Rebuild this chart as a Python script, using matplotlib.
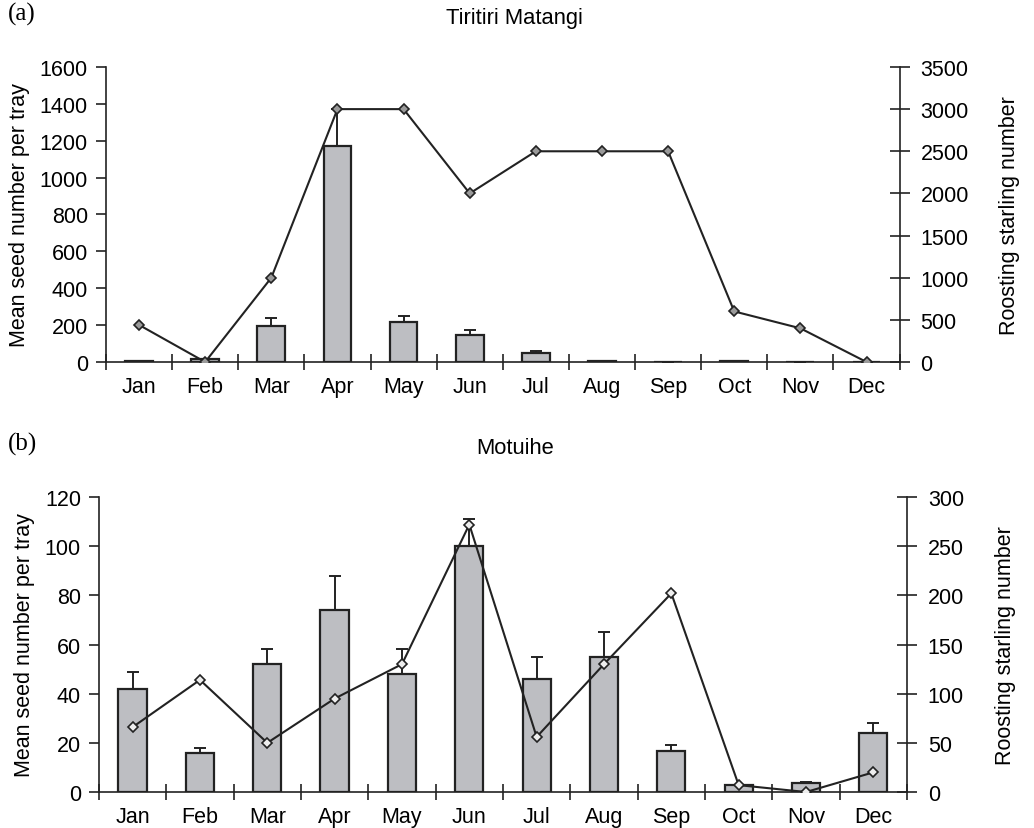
import matplotlib
matplotlib.use('Agg')
from matplotlib import pyplot as plt
from matplotlib.ticker import FixedLocator
import numpy as np

plt.rcParams['font.family'] = ['Liberation Sans', 'DejaVu Sans']
plt.rcParams['font.size'] = 15.5

months = ['Jan', 'Feb', 'Mar', 'Apr', 'May', 'Jun',
          'Jul', 'Aug', 'Sep', 'Oct', 'Nov', 'Dec']

# (a) Tiritiri Matangi
tiri_seeds = [5, 15, 197, 1170, 218, 148, 48, 5, 1, 5, 1, 0]
tiri_err = [0, 0, 40, 200, 32, 24, 12, 0, 0, 0, 0, 0]
tiri_starlings = [440, 0, 1000, 3000, 3000, 2000, 2500, 2500, 2500, 600, 400, 0]

# (b) Motuihe
motu_seeds = [42, 16, 52, 74, 48, 100, 46, 55, 16.5, 3, 3.5, 24]
motu_err = [7, 2, 6, 14, 10, 11, 9, 10, 2.5, 0, 0.5, 4]
motu_starlings = [66, 114, 50, 95, 130, 272, 56, 130, 202, 7, 0, 20]

ink = '#222222'
bar_grey = '#bdbec2'


def panel(rect, tag, title, seeds, err, birds, ymax1, ystep1, ymax2, ystep2, mface):
    ax = fig.add_axes(rect)
    x = np.arange(len(months))
    ax.bar(x, seeds, width=0.42, color=bar_grey, edgecolor=ink, linewidth=1.6, zorder=2)
    ax.errorbar(x, seeds, yerr=[np.zeros(len(err)), err], fmt='none', ecolor=ink,
                elinewidth=1.4, capsize=4, capthick=1.4, zorder=3)
    ax.set_xlim(-0.5, 11.5)
    ax.set_ylim(0, ymax1)
    ax.set_yticks(np.arange(0, ymax1 + 1, ystep1))
    ax.set_xticks(x)
    ax.set_xticklabels(months)
    ax.xaxis.set_minor_locator(FixedLocator(np.arange(-0.5, 12, 1)))
    ax.tick_params(axis='x', which='major', length=0, pad=10)
    ax.tick_params(axis='x', which='minor', direction='inout', length=12, width=1.2, color=ink)
    ax.tick_params(axis='y', direction='out', length=7, width=1.2, color=ink, pad=6)
    ax.set_ylabel('Mean seed number per tray', labelpad=7)
    for s in ['top', 'right']:
        ax.spines[s].set_visible(False)
    for s in ['left', 'bottom']:
        ax.spines[s].set_color(ink)
        ax.spines[s].set_linewidth(1.2)

    ax2 = ax.twinx()
    ax2.plot(x, birds, color=ink, linewidth=1.5, marker='D', markersize=5.5,
             markerfacecolor=mface, markeredgecolor=ink, markeredgewidth=1.2, zorder=4)
    ax2.set_ylim(0, ymax2)
    ax2.set_yticks(np.arange(0, ymax2 + 1, ystep2))
    ax2.tick_params(axis='y', direction='inout', length=14, width=1.2, color=ink, pad=8)
    ax2.set_ylabel('Roosting starling number', labelpad=22)
    for s in ['top', 'left', 'bottom']:
        ax2.spines[s].set_visible(False)
    ax2.spines['right'].set_color(ink)
    ax2.spines['right'].set_linewidth(1.2)
    ax2.set_xlim(-0.5, 11.5)

    fig.text(0.008, rect[1] + rect[3] + 0.064, tag, family=['Liberation Serif', 'DejaVu Serif'],
             fontsize=18, va='center', ha='left')
    fig.text(0.498, rect[1] + rect[3] + 0.06, title, fontsize=15.8, va='center', ha='center')
    return ax


fig = plt.figure(figsize=(10.34, 8.29), dpi=100)

panel([0.1025, 0.5621, 0.7675, 0.3559], '(a)', 'Tiritiri Matangi',
      tiri_seeds, tiri_err, tiri_starlings, 1600, 200, 3500, 500, '#9a9a9a')
panel([0.0957, 0.0434, 0.7815, 0.3559], '(b)', 'Motuihe',
      motu_seeds, motu_err, motu_starlings, 120, 20, 300, 50, '#eeeeee')

fig.savefig('out.png', dpi=100)
